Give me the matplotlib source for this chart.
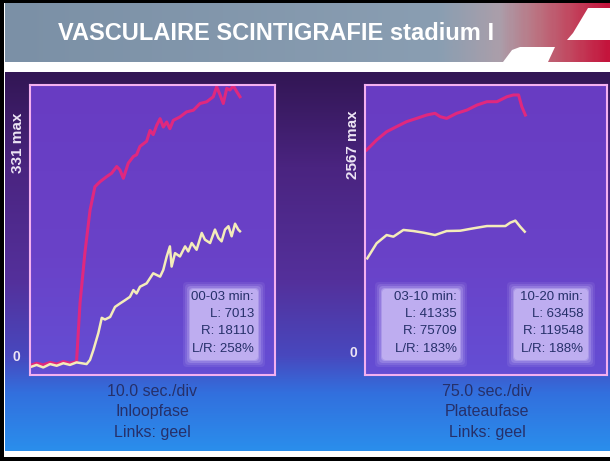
import numpy as np
import matplotlib.pyplot as plt
from matplotlib.colors import LinearSegmentedColormap
from matplotlib.patches import Rectangle, Polygon, FancyBboxPatch

W, H = 610, 461

title = "VASCULAIRE SCINTIGRAFIE stadium I"

# inloopfase (left panel): time in s, counts (max 331)
t_in_r = [0.7, 2.7, 5.4, 8.2, 10.9, 13.6, 16.3, 19.0, 20.4, 22.4, 24.5, 26.5, 28.6, 31.3,
          33.3, 35.4, 36.7, 38.1, 40.1, 42.2, 43.5, 44.9, 47.6, 49.0, 50.3, 51.7, 53.1,
          54.4, 55.8, 57.1, 58.5, 61.2, 63.9, 66.7, 69.4, 72.1, 74.8, 76.2, 77.6, 78.9,
          80.3, 81.6, 83.0, 84.4, 85.7]
c_in_r = [-2, 0, -2, 1, -1, 2, 0, 2, 71, 131, 182, 210, 216, 222,
          226, 234, 230, 220, 238, 246, 248, 258, 264, 277, 272, 283, 291,
          281, 287, 279, 289, 293, 299, 301, 309, 311, 317, 329, 319, 309,
          327, 325, 330, 323, 317]
t_in_l = [0.7, 2.7, 5.4, 8.2, 10.9, 13.6, 16.3, 19.0, 21.1, 23.1, 24.5, 25.9, 27.9, 29.3,
          30.6, 32.7, 34.7, 36.7, 38.8, 40.8, 42.2, 43.5, 44.9, 47.6, 50.3, 51.7, 53.1,
          54.4, 55.8, 57.1, 57.8, 59.2, 61.2, 63.3, 64.6, 66.0, 68.0, 70.1, 71.4, 73.5,
          75.5, 76.9, 78.2, 79.6, 81.0, 82.3, 83.7, 85.0, 85.7]
c_in_l = [-4, -2, -5, -1, -3, 0, -2, 1, 0, -1, 4, 16, 36, 54,
          52, 55, 67, 71, 75, 79, 87, 83, 91, 95, 107, 105, 103,
          111, 127, 139, 115, 131, 127, 139, 133, 143, 135, 155, 147, 143,
          159, 149, 145, 159, 163, 151, 166, 159, 157]

# plateaufase (right panel): time in s, counts (max 2567)
t_pl_r = [5, 36, 67, 98, 129, 160, 191, 217, 233, 253, 284, 316, 347, 378, 409, 440,
          460, 476, 486, 497]
c_pl_r = [1967, 2060, 2136, 2183, 2229, 2259, 2290, 2306, 2275, 2259, 2306, 2336, 2382,
          2413, 2413, 2459, 2475, 2475, 2367, 2290]
t_pl_l = [7, 36, 67, 88, 119, 150, 181, 217, 253, 295, 336, 378, 409, 435, 450, 466,
          481, 495]
c_pl_l = [968, 1107, 1183, 1168, 1230, 1220, 1205, 1183, 1220, 1223, 1245, 1266, 1266,
          1266, 1297, 1316, 1260, 1214]

max_in = 331
max_pl = 2567

box_in = ["00-03 min:", "L: 7013", "R: 18110", "L/R: 258%"]
box_pl_a = ["03-10 min:", "L: 41335", "R: 75709", "L/R: 183%"]
box_pl_b = ["10-20 min:", "L: 63458", "R: 119548", "L/R: 188%"]
cap_in = ["10.0 sec./div", "Inloopfase", "Links: geel"]
cap_pl = ["75.0 sec./div", "Plateaufase", "Links: geel"]

sans = ['Liberation Sans', 'DejaVu Sans']
navy = '#26306a'

fig = plt.figure(figsize=(6.1, 4.61), dpi=100, facecolor='white')

# background layer in pixel coordinates
bg = fig.add_axes([0, 0, 1, 1], zorder=0)
bg.axis('off')


def vgrad(stops, n=200):
    ys = np.linspace(0, 1, n)
    pos = [s[0] for s in stops]
    img = np.zeros((n, 1, 3))
    for k in range(3):
        img[:, 0, k] = np.interp(ys, pos, [s[1][k] / 255 for s in stops])
    return img


# photo background: dark purple on top, blue at bottom
photo = vgrad([(0, (50, 22, 84)), (0.25, (74, 36, 128)), (0.55, (84, 48, 155)),
               (0.75, (72, 72, 190)), (0.85, (50, 112, 222)), (1, (42, 142, 236))])
bg.imshow(photo, extent=(5, W, 451, 73), origin='upper', aspect='auto', zorder=0)

# panel interiors
inner = vgrad([(0, (104, 60, 194)), (0.6, (106, 66, 200)), (1, (100, 78, 212))])
for x0, x1 in [(30, 275), (365, 607)]:
    bg.imshow(inner, extent=(x0, x1, 375, 85), origin='upper', aspect='auto', zorder=1)

# header band
hcm = LinearSegmentedColormap.from_list('hdr', [(0, '#7b90a6'), (0.72, '#8a9eb2'),
                                               (0.82, '#ab9eaa'), (0.88, '#bb7482'),
                                               (0.94, '#c2455e'), (1, '#c4143c')])
bg.imshow(np.linspace(0, 1, 300)[None, :], cmap=hcm, extent=(5, W, 62, 3),
          origin='upper', aspect='auto', zorder=1)
bg.add_patch(Polygon([(588, 8), (W, 8), (W, 40), (567, 40), (573, 33)],
                     closed=True, fc='white', ec='none', zorder=2))
bg.add_patch(Polygon([(503, 62), (512, 50), (520, 47), (555, 47), (548, 62)],
                     closed=True, fc='white', ec='none', zorder=2))
bg.text(58, 34, title, ha='left', va='center', color='white', fontsize=17,
        fontweight='bold', family=sans, zorder=3)

# black frame
bg.add_patch(Rectangle((0, 0), 4, H, fc='black', ec='none', zorder=4))
bg.add_patch(Rectangle((0, 0), W, 3, fc='black', ec='none', zorder=4))
bg.add_patch(Rectangle((0, 457), W, 4, fc='black', ec='none', zorder=4))

# axis labels
lab = dict(color='#ece4f4', fontweight='bold', family=sans,
           ha='center', va='center', zorder=3)
bg.text(18, 143, f"{max_in} max", rotation=90, fontsize=11, **lab)
bg.text(353, 145, f"{max_pl} max", rotation=90, fontsize=11, **lab)
bg.text(16, 357, "0", fontsize=10, **lab)
bg.text(353, 353, "0", fontsize=10, **lab)

# captions under the panels
for xc, lines in [(152, cap_in), (487, cap_pl)]:
    for k, s in enumerate(lines):
        bg.text(xc, 391 + 20.5 * k, s, ha='center', va='center', color=navy,
                fontsize=11.5, family=sans, zorder=3)

bg.set_xlim(0, W)
bg.set_ylim(H, 0)

# curve panels
ax1 = fig.add_axes([30 / W, 1 - 375 / H, 245 / W, 290 / H], zorder=1)
ax1.plot(t_in_r, c_in_r, color='#e0287e', lw=2.2)
ax1.plot(t_in_l, c_in_l, color='#f4ecba', lw=1.8)
ax1.set_xlim(0, 100)
ax1.set_ylim(-14, max_in)

ax2 = fig.add_axes([365 / W, 1 - 375 / H, 242 / W, 290 / H], zorder=1)
ax2.plot(t_pl_r, c_pl_r, color='#e0287e', lw=2.2)
ax2.plot(t_pl_l, c_pl_l, color='#f4ecba', lw=1.8)
ax2.set_xlim(0, 750)
ax2.set_ylim(-108, max_pl)

for ax in (ax1, ax2):
    ax.patch.set_alpha(0)
    ax.set_xticks([])
    ax.set_yticks([])
    for sp in ax.spines.values():
        sp.set_color('#f4b0f0')
        sp.set_linewidth(1.5)

# count boxes on top
ov = fig.add_axes([0, 0, 1, 1], zorder=2)
ov.axis('off')
ov.patch.set_alpha(0)


def glow_box(x0, y0, x1, y1):
    for pad, a in [(7, 0.12), (5, 0.18), (3, 0.3), (1, 0.5), (0, 0.85)]:
        ov.add_patch(FancyBboxPatch((x0, y0), x1 - x0, y1 - y0,
                                    boxstyle=f"round,pad={pad},rounding_size=4",
                                    fc='#c2b2f2', ec='none', alpha=a))


for (x0, x1, xr), lines in [((190, 258, 254), box_in), ((382, 460, 457), box_pl_a),
                             ((514, 588, 583), box_pl_b)]:
    glow_box(x0, 289, x1, 360)
    for k, s in enumerate(lines):
        ov.text(xr, 297 + 17.2 * k, s, ha='right', va='center', color=navy,
                fontsize=9.5, family=sans)

ov.set_xlim(0, W)
ov.set_ylim(H, 0)

plt.savefig("out.png", dpi=100)
